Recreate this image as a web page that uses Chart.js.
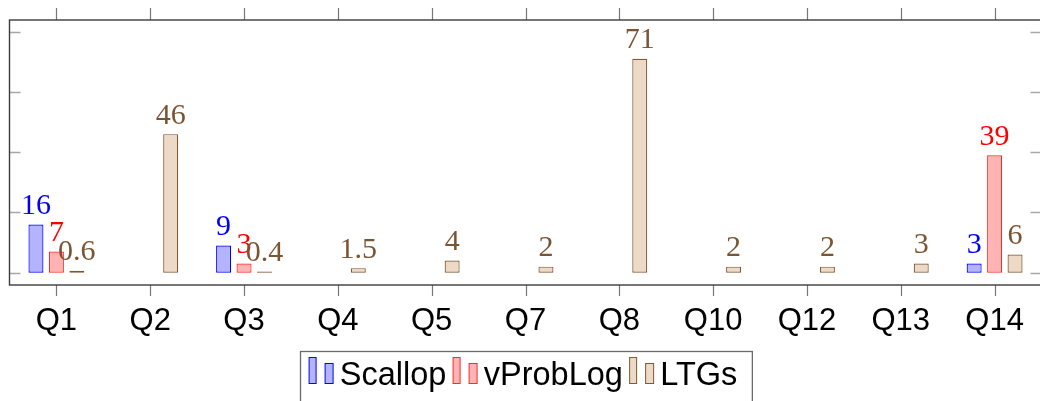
<!DOCTYPE html>
<html>
<head>
<meta charset="utf-8">
<script src="https://cdn.jsdelivr.net/npm/chart.js@4.4.1/dist/chart.umd.min.js"></script>
<style>
  html, body { margin: 0; padding: 0; background: #fff; overflow: hidden; }
  #wrap { position: relative; width: 1051px; height: 401px; }
</style>
</head>
<body>
<div id="wrap"><canvas id="c" width="1051" height="401"></canvas></div>
<script>
// Categories (questions) and per-system values
const categories = ['Q1', 'Q2', 'Q3', 'Q4', 'Q5', 'Q7', 'Q8', 'Q10', 'Q12', 'Q13', 'Q14'];
const scallop  = [16, null, 9, null, null, null, null, null, null, null, 3];
const vProbLog = [7, null, 3, null, null, null, null, null, null, null, 39];
const ltgs     = [0.6, 46, 0.4, 1.5, 4, 2, 71, 2, 2, 3, 6];
const seriesNames = ['Scallop', 'vProbLog', 'LTGs'];
// y tick positions (tick marks only, no labels)
const yTickValues = [0, 20, 40, 60, 80];

const styles = [
  { fill: 'rgb(179,179,255)', line: 'rgb(0,0,255)',   text: 'rgb(0,0,255)' },
  { fill: 'rgb(255,179,179)', line: 'rgb(255,40,40)', text: 'rgb(255,0,0)' },
  { fill: 'rgb(236,217,198)', line: 'rgb(128,88,50)', text: 'rgb(122,85,51)' }
];

const seriesData = [scallop, vProbLog, ltgs];

// Axis box with outward x ticks and inward y ticks
const framePlugin = {
  id: 'frame',
  afterDatasetsDraw(chart) {
    const ctx = chart.ctx;
    const { left, right, top, bottom } = chart.chartArea;
    const xs = chart.scales.x, ys = chart.scales.y;
    ctx.save();
    ctx.strokeStyle = '#777';
    ctx.lineWidth = 1.2;
    categories.forEach((_, i) => {
      const px = Math.round(xs.getPixelForTick(i)) + 0.5;
      ctx.beginPath();
      ctx.moveTo(px, top - 12); ctx.lineTo(px, top);
      ctx.moveTo(px, bottom); ctx.lineTo(px, bottom + 11);
      ctx.stroke();
    });
    ctx.strokeStyle = '#a8a8a8';
    ctx.lineWidth = 1.4;
    yTickValues.forEach(v => {
      const py = Math.round(ys.getPixelForValue(v)) + 0.5;
      ctx.beginPath();
      ctx.moveTo(left, py); ctx.lineTo(left + 11, py);
      ctx.moveTo(right - 11, py); ctx.lineTo(right, py);
      ctx.stroke();
    });
    ctx.strokeStyle = '#3c3c3c';
    ctx.lineWidth = 1.4;
    ctx.strokeRect(left, top, right - left, bottom - top);
    ctx.restore();
  }
};

// Value labels above each bar
const valueLabelPlugin = {
  id: 'valueLabels',
  afterDatasetsDraw(chart) {
    const ctx = chart.ctx;
    ctx.save();
    ctx.font = '30px "Liberation Serif"';
    ctx.textAlign = 'center';
    ctx.textBaseline = 'alphabetic';
    chart.data.datasets.forEach((ds, di) => {
      const meta = chart.getDatasetMeta(di);
      ctx.fillStyle = styles[di].text;
      meta.data.forEach((el, i) => {
        const v = ds.data[i];
        if (v === null || v === undefined) return;
        ctx.fillText(String(v), el.x, el.y - 10.5);
      });
    });
    ctx.restore();
  }
};

// Boxed legend below the axis, two bar glyphs per entry
const legendPlugin = {
  id: 'boxLegend',
  afterDraw(chart) {
    const ctx = chart.ctx;
    const { left, right } = chart.chartArea;
    ctx.save();
    ctx.font = '32.5px "Liberation Sans"';
    const iconBlock = 30.7, gap = 6.7, padL = 8.6, padR = 15;
    const widths = chart.data.datasets.map(ds => ctx.measureText(ds.label).width);
    const total = padL + widths.reduce((a, w) => a + iconBlock + w, 0) + gap * (widths.length - 1) + padR;
    const boxLeft = Math.round((left + right) / 2 - total / 2) + 0.5;
    const boxTop = 351.5;
    ctx.fillStyle = '#fff';
    ctx.fillRect(boxLeft, boxTop, total, 80);
    ctx.strokeStyle = '#6a6a6a';
    ctx.lineWidth = 1.3;
    ctx.strokeRect(boxLeft, boxTop, total, 80);
    let x = boxLeft + padL;
    chart.data.datasets.forEach((ds, di) => {
      const st = styles[di];
      ctx.fillStyle = st.fill;
      ctx.strokeStyle = st.line;
      ctx.lineWidth = 1;
      ctx.fillRect(x, 357.5, 7, 26);
      ctx.strokeRect(x, 357.5, 7, 26);
      ctx.fillRect(x + 16, 363.5, 8, 20);
      ctx.strokeRect(x + 16, 363.5, 8, 20);
      ctx.fillStyle = '#000';
      ctx.textBaseline = 'alphabetic';
      ctx.textAlign = 'left';
      ctx.fillText(ds.label, x + iconBlock, 384.5);
      x += iconBlock + widths[di] + gap;
    });
    ctx.restore();
  }
};

new Chart(document.getElementById('c'), {
  type: 'bar',
  data: {
    labels: categories,
    datasets: seriesData.map((d, i) => ({
      label: seriesNames[i],
      data: d,
      backgroundColor: styles[i].fill,
      borderColor: styles[i].line,
      borderWidth: 1.2,
      borderSkipped: false,
      categoryPercentage: 0.654,
      barPercentage: 0.733
    }))
  },
  options: {
    responsive: false,
    devicePixelRatio: 1,
    animation: false,
    layout: { padding: { left: 9.5, right: 9.5, top: 20, bottom: 0 } },
    plugins: { legend: { display: false }, tooltip: { enabled: false } },
    scales: {
      x: {
        grid: { display: false, drawTicks: false },
        border: { display: false },
        ticks: {
          color: '#000',
          font: { family: '"Liberation Sans"', size: 31 },
          padding: 18,
          maxRotation: 0,
          autoSkip: false
        },
        afterFit(scale) { scale.height = 116; }
      },
      y: {
        display: false,
        min: -4.1,
        max: 83.9
      }
    }
  },
  plugins: [framePlugin, valueLabelPlugin, legendPlugin]
});
</script>
</body>
</html>
